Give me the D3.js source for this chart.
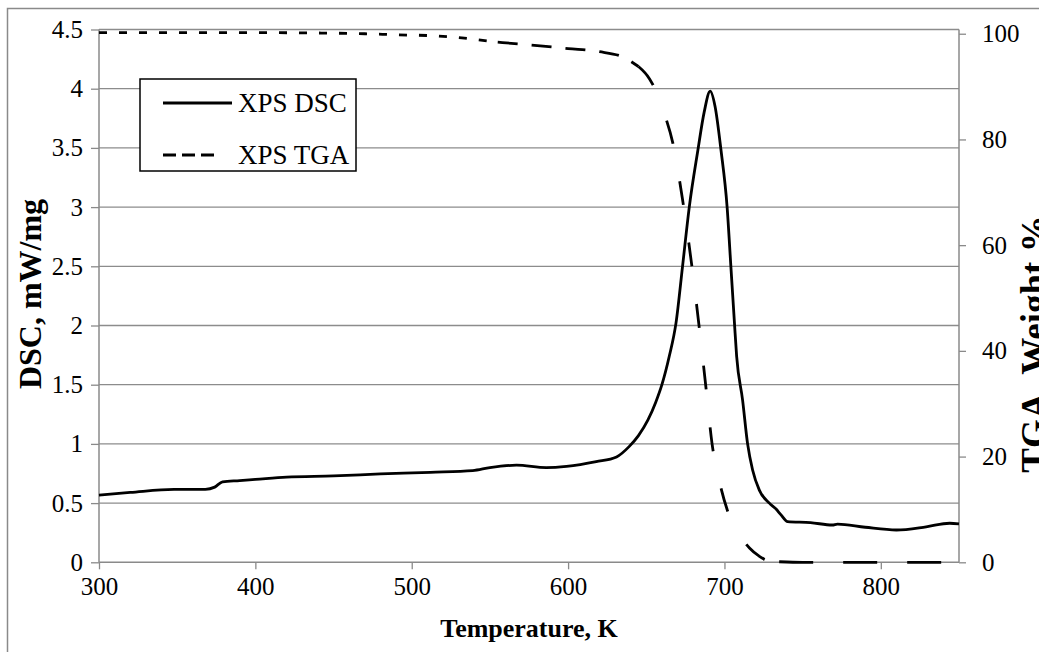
<!DOCTYPE html>
<html>
<head>
<meta charset="utf-8">
<script src="https://cdn.jsdelivr.net/npm/d3@7"></script>
<style>
  body { margin: 0; background: #fff; }
  svg { display: block; }
  text { font-family: "Liberation Serif", "Times New Roman", serif; fill: #000; }
</style>
</head>
<body>
<svg id="chart" width="1039" height="652"></svg>
<script>
// DSC curve, mW/mg against temperature, K
var dscTemp = [300, 320, 348, 368, 374, 379, 390, 400, 420, 450, 480, 512, 539, 550, 567, 586, 599, 618, 631, 639,
               645, 651, 656, 660, 664.7, 669, 673.2, 677.5, 683, 687, 690.9, 694, 697.8, 701.7, 704.1, 706.4, 707.8,
               711.6, 714.8, 718, 722.3, 728.7, 733, 736.2, 740.4, 755, 769, 772.3, 790, 810, 829, 844, 850];
var dscValue = [0.568, 0.59, 0.616, 0.616, 0.635, 0.68, 0.69, 0.70, 0.72, 0.73, 0.746, 0.76, 0.774, 0.80, 0.82, 0.80, 0.81, 0.85, 0.89, 0.977,
                1.07, 1.2, 1.35, 1.5, 1.74, 2.02, 2.5, 3.0, 3.48, 3.8, 3.98, 3.85, 3.48, 3.0, 2.5, 2.02, 1.74,
                1.37, 1.0, 0.78, 0.61, 0.50, 0.45, 0.40, 0.343, 0.335, 0.315, 0.323, 0.296, 0.273, 0.30, 0.33, 0.325];

// TGA curve, weight % against temperature, K
var tgaTemp = [300, 400, 450, 470, 490, 515, 532, 555, 575, 600, 620, 635, 645, 652, 657, 662, 667, 673, 679, 684,
               688, 692, 697, 703, 710, 716, 722, 727, 735, 750, 800, 850];
var tgaWeight = [100.2, 100.2, 100.1, 100.0, 99.8, 99.6, 99.2, 98.4, 97.9, 97.2, 96.6, 95.6, 93.8, 91.5, 88.6, 84.5, 79.3, 69, 56.4, 44.1,
                 33.5, 22.6, 15, 8.9, 5, 2.7, 1.2, 0.4, 0.1, 0, 0, 0];

var xTicks = [300, 400, 500, 600, 700, 800];
var yLeftTicks = [0, 0.5, 1, 1.5, 2, 2.5, 3, 3.5, 4, 4.5];
var yRightTicks = [0, 20, 40, 60, 80, 100];
var legendNames = ['XPS DSC', 'XPS TGA'];

var svg = d3.select('#chart');
var plotLeft = 99, plotRight = 959, plotTop = 29.5, plotBottom = 562.3;

var x = d3.scaleLinear().domain([300, 850]).range([plotLeft, plotRight]);
var yL = d3.scaleLinear().domain([0, 4.5]).range([plotBottom, plotTop]);
var yR = d3.scaleLinear().domain([0, 100.8]).range([plotBottom, plotTop]);

// outer chart border
svg.append('rect')
    .attr('x', 7.5).attr('y', 8.5)
    .attr('width', 1040).attr('height', 660)
    .attr('fill', 'none').attr('stroke', '#8a8a8a').attr('stroke-width', 1.5);

// horizontal gridlines
svg.append('g').selectAll('line')
    .data(yLeftTicks.slice(1))
    .enter().append('line')
    .attr('x1', plotLeft).attr('x2', plotRight)
    .attr('y1', function(d) { return yL(d); })
    .attr('y2', function(d) { return yL(d); })
    .attr('stroke', '#8c8c8c').attr('stroke-width', 1.3);

var gx = svg.append('g')
    .attr('transform', 'translate(0,' + plotBottom + ')')
    .call(d3.axisBottom(x).tickValues(xTicks).tickSize(7).tickPadding(8).tickFormat(d3.format('d')));
var gyl = svg.append('g')
    .attr('transform', 'translate(' + plotLeft + ',0)')
    .call(d3.axisLeft(yL).tickValues(yLeftTicks).tickSize(8).tickPadding(8).tickFormat(function(d) { return String(d); }));
var gyr = svg.append('g')
    .attr('transform', 'translate(' + plotRight + ',0)')
    .call(d3.axisRight(yR).tickValues(yRightTicks).tickSize(7).tickPadding(16).tickFormat(d3.format('d')));

[gx, gyl, gyr].forEach(function(g) {
    g.select('.domain').attr('stroke', '#8a8a8a').attr('stroke-width', 1.5);
    g.selectAll('.tick line').attr('stroke', '#8a8a8a').attr('stroke-width', 1.3);
    g.selectAll('.tick text')
        .style('font-family', '"Liberation Serif", serif')
        .style('font-size', '25px').attr('fill', '#000');
});
gyl.select('.domain').attr('d', 'M0,' + plotBottom + 'V' + plotTop);
gyr.select('.domain').attr('d', 'M0,' + plotBottom + 'V' + plotTop);
gx.select('.domain').attr('d', 'M' + plotLeft + ',0H' + plotRight);

// DSC line
var dscData = dscTemp.map(function(t, i) { return [t, dscValue[i]]; });
var dscLine = d3.line()
    .x(function(d) { return x(d[0]); })
    .y(function(d) { return yL(d[1]); })
    .curve(d3.curveMonotoneX);
svg.append('path')
    .datum(dscData)
    .attr('d', dscLine)
    .attr('fill', 'none').attr('stroke', '#000').attr('stroke-width', 2.8)
    .attr('stroke-linejoin', 'round');

// TGA line, dashes change along the curve like in the original
var tgaData = tgaTemp.map(function(t, i) { return [t, tgaWeight[i]]; });
var tgaLine = d3.line()
    .x(function(d) { return x(d[0]); })
    .y(function(d) { return yR(d[1]); })
    .curve(d3.curveMonotoneX);
var tgaParts = [
    {from: 300, to: 555, dash: '8,12'},
    {from: 555, to: 645, dash: '20,14'},
    {from: 645, to: 735, dash: '24,38'},
    {from: 735, to: 850, dash: '34,30'}
];
tgaParts.forEach(function(p) {
    svg.append('path')
        .datum(tgaData.filter(function(d) { return d[0] >= p.from && d[0] <= p.to; }))
        .attr('d', tgaLine)
        .attr('fill', 'none').attr('stroke', '#000').attr('stroke-width', 2.8)
        .attr('stroke-dasharray', p.dash);
});

// axis titles
svg.append('text')
    .attr('x', x(575)).attr('y', 637)
    .attr('text-anchor', 'middle')
    .style('font-size', '26px').style('font-weight', 'bold')
    .text('Temperature, K');
svg.append('text')
    .attr('transform', 'translate(41,294) rotate(-90)')
    .attr('text-anchor', 'middle')
    .style('font-size', '32px').style('font-weight', 'bold')
    .text('DSC, mW/mg');
svg.append('text')
    .attr('transform', 'translate(1047,344) rotate(-90)')
    .attr('text-anchor', 'middle')
    .style('font-size', '37px').style('font-weight', 'bold')
    .text('TGA, Weight %');

// legend
var lg = svg.append('g').attr('transform', 'translate(140,79)');
lg.append('rect')
    .attr('x', 0).attr('y', 0).attr('width', 216).attr('height', 92)
    .attr('fill', '#fff').attr('stroke', '#000').attr('stroke-width', 1.5);
legendNames.forEach(function(name, i) {
    var yy = 24 + i * 52;
    lg.append('line')
        .attr('x1', 23).attr('x2', i === 0 ? 92 : 78)
        .attr('y1', yy).attr('y2', yy)
        .attr('stroke', '#000').attr('stroke-width', 2.8)
        .attr('stroke-dasharray', i === 0 ? null : '13,6');
    lg.append('text')
        .attr('x', 98).attr('y', yy + 9)
        .style('font-size', '27px')
        .text(name);
});
</script>
</body>
</html>
